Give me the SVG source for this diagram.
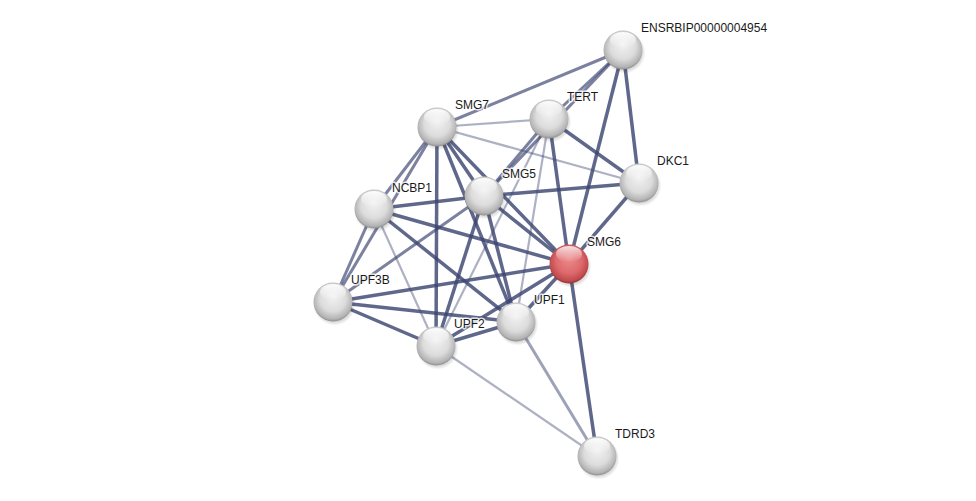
<svg xmlns="http://www.w3.org/2000/svg" width="976" height="501" viewBox="0 0 976 501">
<defs>
<radialGradient id="gBody" cx="50%" cy="45%" r="55%" fx="50%" fy="35%">
<stop offset="0" stop-color="#f2f2f2"/>
<stop offset="0.6" stop-color="#dcdcdc"/>
<stop offset="0.9" stop-color="#b4b4b4"/>
<stop offset="1" stop-color="#8e8e8e"/>
</radialGradient>
<radialGradient id="rBody" cx="50%" cy="45%" r="55%" fx="50%" fy="35%">
<stop offset="0" stop-color="#ec8a8c"/>
<stop offset="0.6" stop-color="#dd6a6c"/>
<stop offset="0.9" stop-color="#c04a4d"/>
<stop offset="1" stop-color="#9a2f32"/>
</radialGradient>
<linearGradient id="hl" x1="0" y1="0" x2="0" y2="1">
<stop offset="0" stop-color="#ffffff" stop-opacity="0.95"/>
<stop offset="1" stop-color="#ffffff" stop-opacity="0"/>
</linearGradient>
<radialGradient id="shadow" cx="50%" cy="50%" r="50%">
<stop offset="0.7" stop-color="#000" stop-opacity="0.25"/>
<stop offset="1" stop-color="#000" stop-opacity="0"/>
</radialGradient>
<g id="ball">
<circle cx="1.5" cy="2.5" r="21" fill="url(#shadow)"/>
<circle r="19.5" fill="url(#gBody)"/>
<ellipse cx="0" cy="-10" rx="13" ry="8" fill="url(#hl)"/>
</g>
<g id="rball">
<circle cx="1.5" cy="2.5" r="21" fill="url(#shadow)"/>
<circle r="19.5" fill="url(#rBody)"/>
<ellipse cx="0" cy="-10" rx="13" ry="8" fill="url(#hl)" opacity="0.85"/>
</g>
</defs>
<style>
.e{fill:none;stroke:#3c4670;stroke-linecap:butt}
.s{stroke-width:3.5;stroke-opacity:0.82}
.m{stroke-width:3;stroke-opacity:0.68}
.l{stroke-width:2.2;stroke-opacity:0.42}
.lab{font-family:"Liberation Sans",Arial,sans-serif;font-size:12px;fill:#1a1a1a;stroke:#ffffff;stroke-width:3;stroke-opacity:0.8;paint-order:stroke;stroke-linejoin:round}
</style>
<rect width="976" height="501" fill="#ffffff"/>
<g id="edges">
<line class="e m" x1="623" y1="50" x2="437" y2="127"/>
<line class="e m" x1="623" y1="50" x2="549" y2="119"/>
<line class="e m" x1="623" y1="50" x2="484" y2="196"/>
<line class="e s" x1="623" y1="50" x2="639" y2="183"/>
<line class="e s" x1="623" y1="50" x2="569" y2="264"/>
<line class="e l" x1="549" y1="119" x2="437" y2="127"/>
<line class="e s" x1="549" y1="119" x2="639" y2="183"/>
<line class="e m" x1="549" y1="119" x2="484" y2="196"/>
<line class="e s" x1="549" y1="119" x2="569" y2="264"/>
<line class="e l" x1="549" y1="119" x2="516" y2="322"/>
<line class="e l" x1="549" y1="119" x2="436" y2="346"/>
<line class="e l" x1="437" y1="127" x2="639" y2="183"/>
<line class="e m" x1="437" y1="127" x2="374" y2="209"/>
<line class="e m" x1="437" y1="127" x2="333" y2="302"/>
<line class="e s" x1="437" y1="127" x2="484" y2="196"/>
<line class="e s" x1="437" y1="127" x2="436" y2="346"/>
<line class="e s" x1="437" y1="127" x2="516" y2="322"/>
<line class="e s" x1="437" y1="127" x2="569" y2="264"/>
<line class="e s" x1="374" y1="209" x2="484" y2="196"/>
<line class="e s" x1="484" y1="196" x2="639" y2="183"/>
<line class="e s" x1="639" y1="183" x2="569" y2="264"/>
<line class="e s" x1="374" y1="209" x2="569" y2="264"/>
<line class="e s" x1="374" y1="209" x2="516" y2="322"/>
<line class="e l" x1="374" y1="209" x2="436" y2="346"/>
<line class="e m" x1="374" y1="209" x2="333" y2="302"/>
<line class="e s" x1="484" y1="196" x2="569" y2="264"/>
<line class="e s" x1="484" y1="196" x2="516" y2="322"/>
<line class="e s" x1="484" y1="196" x2="436" y2="346"/>
<line class="e m" x1="484" y1="196" x2="333" y2="302"/>
<line class="e s" x1="569" y1="264" x2="333" y2="302"/>
<line class="e s" x1="569" y1="264" x2="516" y2="322"/>
<line class="e s" x1="569" y1="264" x2="436" y2="346"/>
<line class="e s" x1="569" y1="264" x2="597" y2="456"/>
<line class="e s" x1="333" y1="302" x2="516" y2="322"/>
<line class="e s" x1="333" y1="302" x2="436" y2="346"/>
<line class="e s" x1="436" y1="346" x2="516" y2="322"/>
<line class="e m" x1="516" y1="322" x2="597" y2="456" style="stroke-opacity:0.5"/>
<line class="e l" x1="436" y1="346" x2="597" y2="456"/>
</g>
<g id="ENSRBIP00000004954"><use href="#ball" x="623" y="50"/><text class="lab" x="641" y="32">ENSRBIP00000004954</text></g>
<g id="TERT"><use href="#ball" x="549" y="119"/><text class="lab" x="567" y="101">TERT</text></g>
<g id="SMG7"><use href="#ball" x="437" y="127"/><text class="lab" x="455" y="109">SMG7</text></g>
<g id="DKC1"><use href="#ball" x="639" y="183"/><text class="lab" x="657" y="165">DKC1</text></g>
<g id="SMG5"><use href="#ball" x="484" y="196"/><text class="lab" x="502" y="178">SMG5</text></g>
<g id="NCBP1"><use href="#ball" x="374" y="209"/><text class="lab" x="392" y="192">NCBP1</text></g>
<g id="SMG6"><use href="#rball" x="569" y="264"/><text class="lab" x="587" y="246">SMG6</text></g>
<g id="UPF3B"><use href="#ball" x="333" y="302"/><text class="lab" x="351" y="284">UPF3B</text></g>
<g id="UPF1"><use href="#ball" x="516" y="322"/><text class="lab" x="534" y="304">UPF1</text></g>
<g id="UPF2"><use href="#ball" x="436" y="346"/><text class="lab" x="454" y="328">UPF2</text></g>
<g id="TDRD3"><use href="#ball" x="597" y="456"/><text class="lab" x="615" y="438">TDRD3</text></g>
</svg>
